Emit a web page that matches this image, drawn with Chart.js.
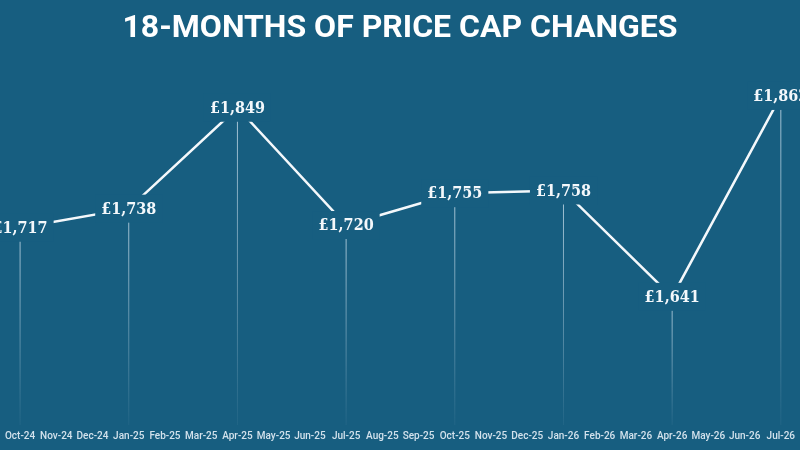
<!DOCTYPE html>
<html>
<head>
<meta charset="utf-8">
<script src="https://cdn.jsdelivr.net/npm/chart.js@4"></script>
<style>
  html, body { margin: 0; padding: 0; background: #175e80; }
  #wrap { width: 800px; height: 450px; position: relative; }
</style>
</head>
<body>
<div id="wrap"><canvas id="myChart"></canvas></div>
<script>
// all months on the x axis
const months = ['Oct-24', 'Nov-24', 'Dec-24', 'Jan-25', 'Feb-25', 'Mar-25', 'Apr-25', 'May-25',
    'Jun-25', 'Jul-25', 'Aug-25', 'Sep-25', 'Oct-25', 'Nov-25', 'Dec-25', 'Jan-26', 'Feb-26',
    'Mar-26', 'Apr-26', 'May-26', 'Jun-26', 'Jul-26'];

// price cap changes (quarterly)
const capMonths = ['Oct-24', 'Jan-25', 'Apr-25', 'Jul-25', 'Oct-25', 'Jan-26', 'Apr-26', 'Jul-26'];
const capValues = [1717, 1738, 1849, 1720, 1755, 1758, 1641, 1862];

const bg = '#175e80';

const capData = months.map(m => {
    const i = capMonths.indexOf(m);
    return i >= 0 ? capValues[i] : null;
});

// drop lines + value labels (label box hides the line under the text)
const labelPlugin = {
    id: 'capLabels',
    afterDatasetsDraw(chart) {
        const c = chart.ctx;
        const meta = chart.getDatasetMeta(0);
        const bottom = chart.chartArea.bottom;
        c.save();
        c.font = 'bold 16px "DejaVu Serif Condensed", "DejaVu Serif"';
        c.textAlign = 'center';
        c.textBaseline = 'middle';
        meta.data.forEach((pt, i) => {
            const v = capData[i];
            if (v == null) return;
            const grad = c.createLinearGradient(0, pt.y, 0, bottom);
            grad.addColorStop(0, 'rgba(220,235,245,0.75)');
            grad.addColorStop(1, 'rgba(220,235,245,0.05)');
            c.strokeStyle = grad;
            c.lineWidth = 1;
            c.beginPath();
            c.moveTo(pt.x, pt.y);
            c.lineTo(pt.x, bottom);
            c.stroke();

            const txt = '£' + v.toLocaleString('en-GB');
            const w = c.measureText(txt).width;
            c.fillStyle = bg;
            c.fillRect(pt.x - w / 2 - 6, pt.y - 14, w + 12, 28);
            c.fillStyle = '#f4f8fb';
            c.fillText(txt, pt.x, pt.y + 1);
        });
        c.restore();
    }
};

const ctx = document.getElementById('myChart');

const myChart = new Chart(ctx, {
    type: 'line',
    data: {
        labels: months,
        datasets: [{
            label: 'Price cap',
            data: capData,
            spanGaps: true,
            borderColor: '#f4f8fb',
            borderWidth: 2.5,
            pointRadius: 0,
            tension: 0
        }]
    },
    options: {
        responsive: true,
        maintainAspectRatio: false,
        animation: false,
        layout: {
            padding: { left: 0, right: 0, top: 0, bottom: 3 }
        },
        plugins: {
            legend: { display: false },
            tooltip: { enabled: false },
            title: {
                display: true,
                text: '18-MONTHS OF PRICE CAP CHANGES',
                color: '#ffffff',
                font: { family: 'Roboto', size: 32, weight: 'bold' },
                padding: { top: 10, bottom: 13 }
            }
        },
        scales: {
            x: {
                offset: true,
                grid: { display: false, drawTicks: false },
                border: { display: false },
                ticks: {
                    color: '#d3e2ec',
                    font: { family: 'Roboto', size: 10, weight: '500' },
                    padding: 5,
                    autoSkip: false,
                    maxRotation: 0
                }
            },
            y: {
                display: false,
                min: 1500,
                max: 1900
            }
        }
    },
    plugins: [labelPlugin]
});
</script>
</body>
</html>
